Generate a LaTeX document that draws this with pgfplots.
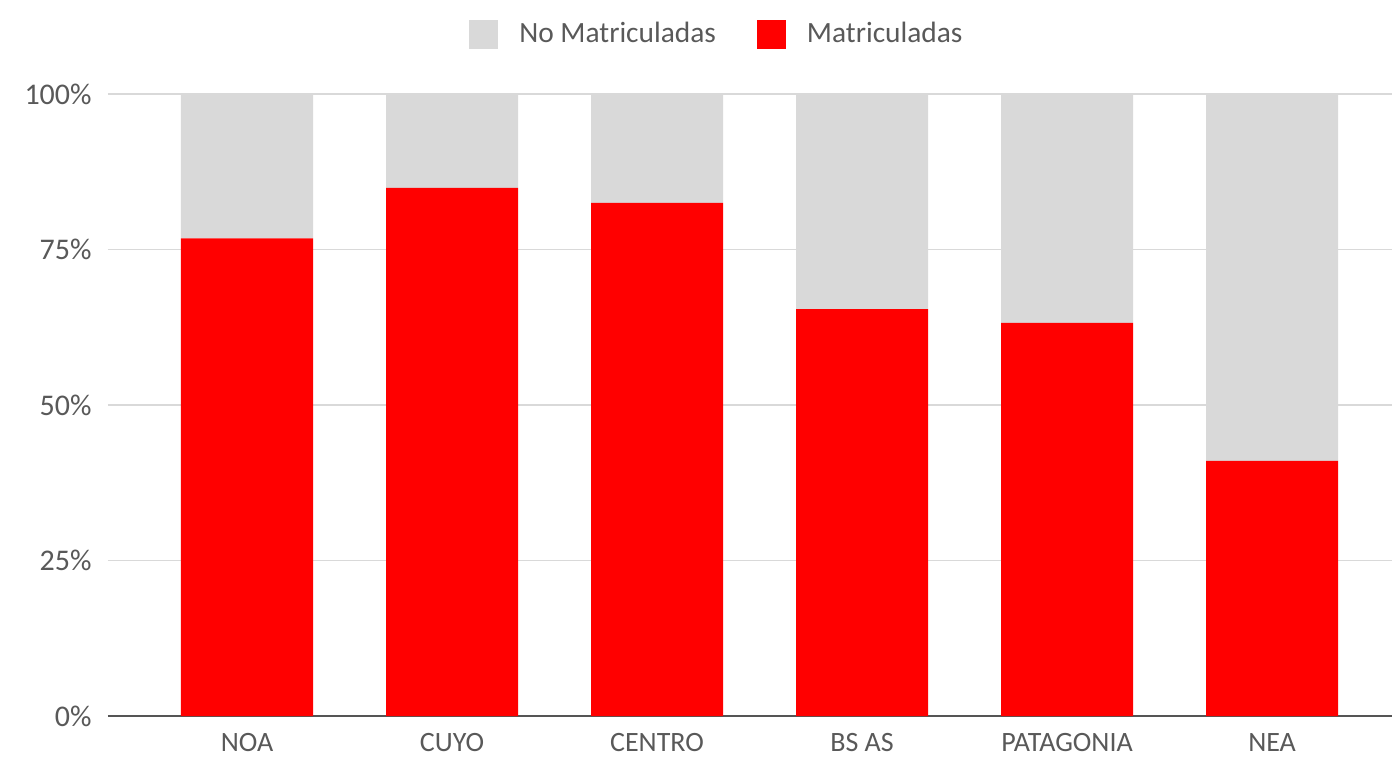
\documentclass[border=0pt]{standalone}
\usepackage{pgfplots}
\pgfplotsset{compat=1.18}
\usepackage{fontspec}
\setmainfont{Carlito}
\definecolor{matred}{HTML}{FF0000}
\definecolor{nogray}{HTML}{D9D9D9}
\definecolor{txt}{HTML}{595959}
\definecolor{gridc}{HTML}{D9D9D9}
\definecolor{axisc}{HTML}{555555}
\begin{document}
\begin{tikzpicture}[x=1pt,y=1pt]
\path[use as bounding box] (-54,-20) rectangle (642,358);
\begin{axis}[
  at={(0,0)}, anchor=south west,
  scale only axis, width=642pt, height=311pt,
  ybar stacked, bar width=66pt,
  xmin=-0.678, xmax=5.585, ymin=0, ymax=100,
  xtick={0,1,2,3,4,5},
  xticklabels={NOA,CUYO,CENTRO,BS AS,PATAGONIA,NEA},
  ytick={0,25,50,75,100},
  yticklabels={0\%,25\%,50\%,75\%,100\%},
  axis x line*=bottom, axis y line*=left,
  y axis line style={draw=none},
  x axis line style={draw=axisc, line width=0.9pt},
  ymajorgrids, grid style={draw=gridc, line width=0.8pt},
  major tick length=0pt, tick style={draw=none},
  yticklabel style={font=\fontsize{15}{17}\selectfont, text=txt, anchor=east, inner sep=0pt, xshift=-8pt},
  xticklabel style={font=\fontsize{14}{16}\selectfont, text=txt, anchor=north, inner sep=0pt, text depth=0pt, yshift=-8.5pt},
  legend columns=2,
  legend style={at={(0.475,1.096)}, anchor=center, draw=none, fill=none,
    font=\fontsize{14.7}{17}\selectfont, text=txt,
    /tikz/every even column/.append style={column sep=18.5pt}},
  legend image code/.code={\fill[#1] (0pt,-7.2pt) rectangle (14.5pt,7.2pt); \path[draw=none, fill=none] (23pt,0pt);},
]
\addlegendimage{fill=nogray, draw=none}
\addlegendentry{No Matriculadas}
\addlegendimage{fill=matred, draw=none}
\addlegendentry{Matriculadas}
\addplot+[forget plot, fill=matred, draw=none] coordinates
  {(0,76.8) (1,84.9) (2,82.5) (3,65.4) (4,63.2) (5,41.0)};
\addplot+[forget plot, fill=nogray, draw=none] coordinates
  {(0,23.2) (1,15.1) (2,17.5) (3,34.6) (4,36.8) (5,59.0)};
\end{axis}
\end{tikzpicture}
\end{document}
